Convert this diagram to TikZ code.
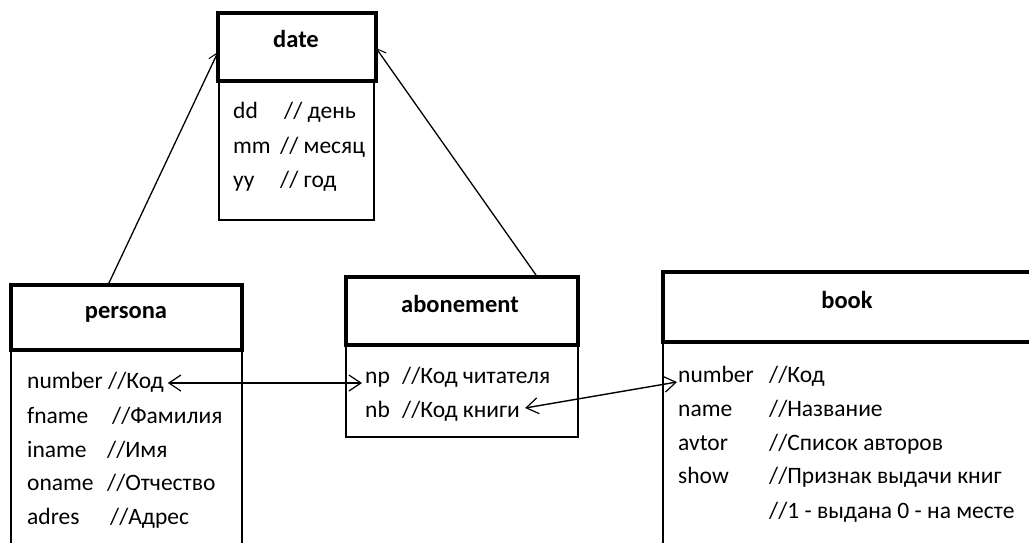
\documentclass[tikz,border=0pt]{standalone}
\usepackage{fontspec}
\setmainfont{Carlito}
\usetikzlibrary{arrows.meta}
\begin{document}
\begin{tikzpicture}[x=1pt,y=-1pt,
  box/.style={draw, line width=1.6pt, fill=white, inner sep=0pt, outer sep=0pt, anchor=north west},
  head/.style={draw, line width=4.8pt, inner sep=0pt, outer sep=0pt, anchor=north west},
  title/.style={anchor=base, inner sep=0pt, font=\fontsize{24.5}{24.5}\selectfont\bfseries},
  txt/.style={anchor=base west, inner sep=0pt, font=\fontsize{23.5}{23.5}\selectfont},
  assoc/.style={line width=1.3pt, -{Straight Barb[length=9pt,width=11pt,line width=1pt]}},
  link/.style={line width=1.4pt, {Straight Barb[length=12pt,width=16pt,line width=1.2pt]}-{Straight Barb[length=12pt,width=16pt,line width=1.2pt]}}]
\clip (0,0) rectangle (1029,542);
\fill[white] (0,0) rectangle (1029,542);

% ---- date ----
\node[box, minimum width=155pt, minimum height=139pt] (dateB) at (219,81) {};
\node[head, minimum width=158pt, minimum height=68pt] (dateH) at (218,13) {};
\node[title] (dateT) at (296,47) {date};
\node[txt] (dd) at (233,118) {dd};
\node[txt] (ddc) at (284,118) {// день};
\node[txt] (mm) at (233,153) {mm};
\node[txt] (mmc) at (280,153) {// месяц};
\node[txt] (yy) at (233,187) {yy};
\node[txt] (yyc) at (280,187) {// год};

% ---- persona ----
\node[box, minimum width=231pt, minimum height=210pt] (persB) at (11,350) {};
\node[head, minimum width=231pt, minimum height=65pt] (persH) at (11,285) {};
\node[title] (persT) at (126,318) {persona};
\node[txt] (pnum) at (27,388) {number};
\node[txt] (pnumc) at (108,388) {//Код};
\node[txt] (pf) at (27,423) {fname};
\node[txt] (pfc) at (112,423) {//Фамилия};
\node[txt] (pi) at (27,457) {iname};
\node[txt] (pic) at (107,457) {//Имя};
\node[txt] (po) at (27,490) {oname};
\node[txt] (poc) at (107,490) {//Отчество};
\node[txt] (pa) at (27,524) {adres};
\node[txt] (pac) at (110,524) {//Адрес};

% ---- abonement ----
\node[box, minimum width=232pt, minimum height=92pt] (abB) at (346,345) {};
\node[head, minimum width=232pt, minimum height=68pt] (abH) at (346,277) {};
\node[title] (abT) at (460,312) {abonement};
\node[txt] (np) at (365,383) {np};
\node[txt] (npc) at (402,383) {//Код читателя};
\node[txt] (nb) at (365,417) {nb};
\node[txt] (nbc) at (402,417) {//Код книги};

% ---- book ----
\node[box, minimum width=377pt, minimum height=218pt] (bookB) at (663,342) {};
\node[head, minimum width=377pt, minimum height=70pt] (bookH) at (663,272) {};
\node[title] (bookT) at (847,308) {book};
\node[txt] (bnum) at (678,382) {number};
\node[txt] (bnumc) at (769,382) {//Код};
\node[txt] (bname) at (678,416) {name};
\node[txt] (bnamec) at (769,416) {//Название};
\node[txt] (bav) at (678,450) {avtor};
\node[txt] (bavc) at (769,450) {//Список авторов};
\node[txt] (bsh) at (678,483) {show};
\node[txt] (bshc) at (769,483) {//Признак выдачи книг};
\node[txt] (bsh2) at (769,518) {//1 - выдана 0 - на месте};

% ---- connectors ----
\draw[assoc] ([xshift=-18.5pt]persH.north) -- ([yshift=-5pt]dateH.west);
\draw[assoc] ([xshift=74pt,yshift=2pt]abH.north) -- ([yshift=-1pt]dateH.east);
\draw[link] ([shift={(4pt,5pt)}]pnumc.base east) -- ([shift={(-3pt,0pt)}]np.base west);
\draw[link] ([shift={(5pt,9pt)}]nbc.base east) -- ([shift={(-1pt,0pt)}]bnum.base west);
\end{tikzpicture}
\end{document}
